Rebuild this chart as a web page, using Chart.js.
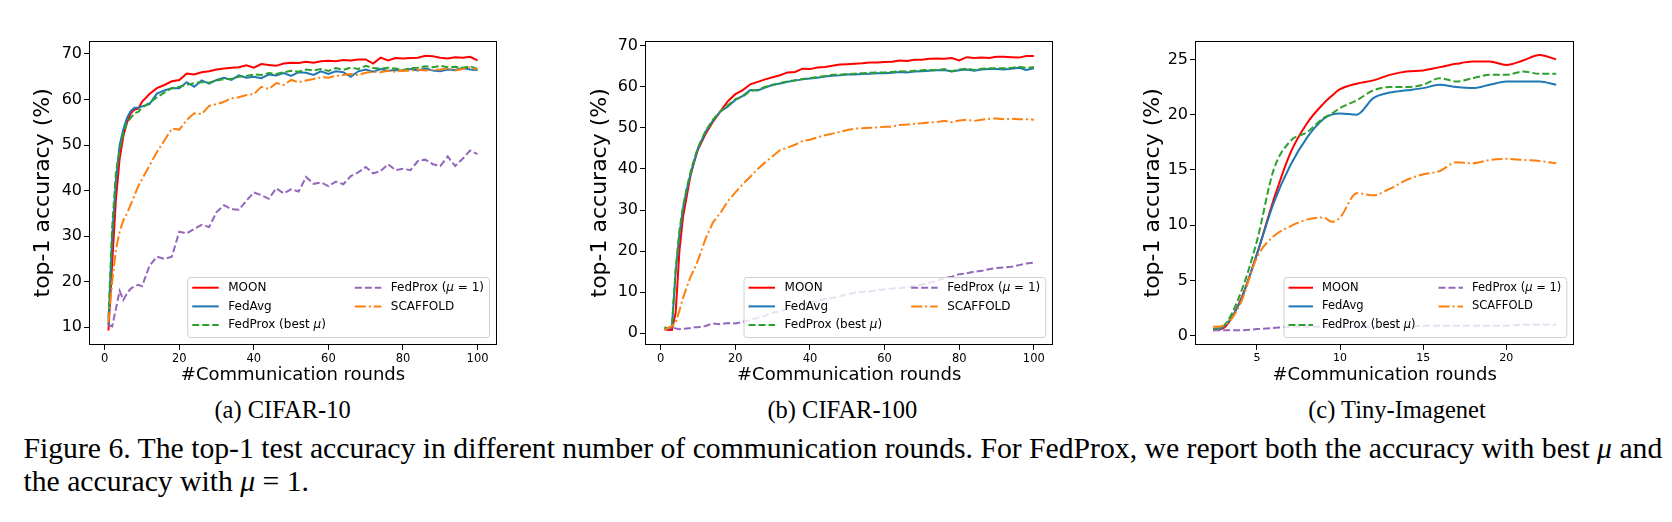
<!DOCTYPE html>
<html>
<head>
<meta charset="utf-8">
<script src="https://cdn.jsdelivr.net/npm/chart.js@4.4.1/dist/chart.umd.min.js"></script>
<style>
  body { margin: 0; background: #fff; width: 1672px; height: 522px; position: relative; overflow: hidden; }
  canvas { position: absolute; }
  .sub { position: absolute; transform: translate(-50%, -50%); font-family: "Liberation Serif", serif; font-size: 24.5px; line-height: 1; white-space: nowrap; color: #000; }
  .cap { position: absolute; left: 23.5px; font-family: "Liberation Serif", serif; font-size: 26px; line-height: 1; white-space: nowrap; color: #000; }
</style>
</head>
<body>
<canvas id="chartA" width="520" height="360" style="left:0px;top:30px"></canvas>
<canvas id="chartB" width="520" height="360" style="left:560px;top:30px"></canvas>
<canvas id="chartC" width="562" height="390" style="left:1110px;top:0px"></canvas>

<div class="sub" style="left:282.6px;top:409.5px">(a) CIFAR-10</div>
<div class="sub" style="left:842.4px;top:409.5px">(b) CIFAR-100</div>
<div class="sub" style="left:1397px;top:409.5px">(c) Tiny-Imagenet</div>
<div class="cap" id="cap1">Figure 6. The top-1 test accuracy in different number of communication rounds. For FedProx, we report both the accuracy with best <i>μ</i> and</div>
<div class="cap" id="cap2">the accuracy with <i>μ</i> = 1.</div>

<script>
// series names, in the order they are plotted
const seriesNames = ['MOON', 'FedAvg', 'FedProx (best μ)', 'FedProx (μ = 1)', 'SCAFFOLD'];
const lineColors = ['#ff0000', '#1f77b4', '#2ca02c', '#9467bd', '#ff7f0e'];
const lineDashes = [[], [], [7, 3], [7, 3], [11, 3, 2, 3]];

// (a) CIFAR-10 and (b) CIFAR-100 share the round numbers
const roundsAB = [1, 2, 3, 4, 5, 6, 7, 8, 9, 10,
  12, 14, 16, 18, 20, 22, 24, 26, 28, 30,
  32, 34, 36, 38, 40, 42, 44, 46, 48, 50,
  52, 54, 56, 58, 60, 62, 64, 66, 68, 70,
  72, 74, 76, 78, 80, 82, 84, 86, 88, 90,
  92, 94, 96, 98, 100];

const moonA = [9.3, 24, 38, 47, 52, 55, 57, 57.8, 58, 59.5,
  61.2, 62.5, 63.2, 64, 64.3, 65.7, 65.5, 66, 66.2, 66.6,
  66.8, 67, 67.1, 67.5, 67, 67.8, 67.6, 67.4, 67.9, 68.1,
  68, 68.3, 68.1, 68.4, 68.5, 68.4, 68.7, 68.6, 68.8, 68.8,
  67.9, 69.2, 68.6, 69.1, 69, 69.1, 69.2, 69.6, 69.5, 69.2,
  69, 69.3, 69.2, 69.4, 68.6];
const fedavgA = [10.5, 30, 42, 50, 53.5, 56, 57.5, 58.2, 58.2, 58.5,
  59, 61.3, 62, 62.5, 62.5, 63.8, 62.8, 64.2, 63.5, 64.3,
  64.8, 64.3, 65.3, 64.8, 65, 64.7, 65.5, 65.3, 65.8, 65.2,
  66, 65.9, 65.4, 66.2, 65.6, 66.2, 66, 65, 66.2, 66.6,
  66.1, 66.7, 66.3, 66.5, 66.3, 66.7, 66.4, 66.8, 66.4, 66.2,
  66.6, 66.5, 66.9, 66.6, 66.5];
const fedproxBestA = [12, 32, 44, 49, 52.5, 55, 56, 57, 57.3, 58.2,
  59.3, 60.5, 61.5, 62.5, 62.8, 63.2, 63.6, 63.8, 63.7, 64.2,
  64.5, 64.5, 65, 65.2, 65.5, 65.4, 65.8, 65.6, 66, 66.3,
  66.1, 66.6, 66.4, 66.7, 66.3, 66.9, 66.5, 67, 66.7, 67.4,
  66.9, 66.8, 67, 66.8, 66.5, 66.9, 67, 67.3, 67.1, 67.4,
  67.1, 67.2, 67, 67.3, 66.7];
const fedproxOneA = [10.5, 10.2, 14, 18, 16, 17.5, 18.5, 19, 19.3, 19,
  23.5, 25.5, 25, 25.5, 31, 30.6, 31.6, 32.5, 32, 35.3,
  36.8, 35.9, 35.8, 37.8, 39.6, 39, 38.2, 40.5, 39.4, 40.3,
  39.8, 43, 41.5, 41.8, 41, 42, 41.4, 43.2, 44, 45.2,
  43.8, 44.3, 45.8, 44.5, 44.8, 44.5, 46.5, 46.8, 45.8, 45.4,
  47.5, 45.4, 47, 48.8, 48];
const scaffoldA = [11, 20, 27, 31, 33.5, 35, 37, 39, 41, 42.5,
  45.5, 48.5, 51, 53.6, 53.4, 55.5, 57, 56.8, 58.6, 59,
  59.5, 60.3, 60.5, 61, 61.2, 62.8, 62.3, 63.6, 63.2, 64.3,
  63.8, 64.2, 64.5, 64.9, 64.8, 65.2, 65.4, 65.6, 65.4, 65.9,
  66.1, 66, 66.3, 66.1, 66.4, 66.3, 66.6, 66.4, 66.5, 66.6,
  66.8, 66.4, 66.7, 67.1, 66.6];

const moonB = [1, 0.8, 0.8, 5, 20, 28.5, 33.5, 38.5, 41.8, 44.8,
  48.5, 51.5, 54, 56.5, 58.2, 59.2, 60.6, 61.2, 61.8, 62.3,
  62.8, 63.5, 63.6, 64.4, 64.3, 64.7, 64.8, 65.1, 65.4, 65.5,
  65.6, 65.7, 65.9, 65.9, 66, 66.1, 66.4, 66.3, 66.6, 66.6,
  66.8, 66.9, 66.8, 67, 66.4, 67.2, 67, 67.1, 67, 67.3,
  67.3, 67.2, 67.1, 67.5, 67.5];
const fedavgB = [1.2, 1, 1.5, 15, 24, 30.5, 35, 38.8, 42, 45,
  49, 51.8, 54, 55.2, 56.8, 57.8, 59.2, 59.1, 59.8, 60.5,
  60.8, 61.2, 61.5, 61.8, 62, 62.2, 62.5, 62.7, 62.8, 63,
  63, 63.1, 63.2, 63.3, 63.3, 63.4, 63.6, 63.5, 63.7, 63.8,
  63.9, 64, 64.1, 63.7, 64, 64.2, 63.9, 64.2, 64.3, 64.3,
  64.2, 64.4, 64.6, 64.1, 64.5];
const fedproxBestB = [1.5, 1.2, 1.8, 15.5, 25, 31, 35.5, 39.3, 42.5, 45.3,
  49.2, 52, 54, 55.5, 57, 57.6, 59, 59.3, 60, 60.4,
  60.9, 61.3, 61.6, 61.9, 62.1, 62.4, 62.6, 62.9, 62.9, 63.1,
  63.2, 63.3, 63.4, 63.5, 63.5, 63.6, 63.8, 63.7, 63.9, 64,
  64.1, 64.1, 64.3, 63.8, 64.2, 64.4, 64.1, 64.4, 64.5, 64.5,
  64.5, 64.6, 64.9, 64.6, 64.8];
const fedproxOneB = [1, 1.2, 1.5, 1.2, 1, 1.1, 1.2, 1.3, 1.5, 1.5,
  1.8, 2.4, 2.2, 2.5, 2.4, 2.8, 3.2, 3.8, 4.3, 5,
  5.4, 6, 6.5, 7, 7.6, 7.8, 8.4, 8.6, 9, 9.5,
  9.9, 10.1, 10.2, 10.5, 10.7, 10.9, 11, 11.2, 11.5, 11.9,
  12.3, 12.8, 13.4, 13.8, 14.4, 14.6, 15, 15.2, 15.6, 15.9,
  16, 16.2, 16.6, 17, 17.2];
const scaffoldB = [1, 1.3, 1.8, 2.5, 5.5, 8.7, 11.3, 13.8, 15.6, 17.8,
  23, 27, 29.3, 32.2, 34.3, 36.3, 38.1, 40, 41.6, 43.1,
  44.6, 45.2, 45.9, 46.8, 47.1, 47.7, 48.2, 48.6, 49, 49.5,
  49.8, 49.9, 50, 50.1, 50.3, 50.3, 50.7, 50.8, 51, 51.1,
  51.3, 51.4, 51.7, 51.4, 51.8, 52, 51.7, 52, 52.2, 52.3,
  52.1, 52.2, 52.1, 52.1, 52];

// (c) Tiny-Imagenet
const roundsC = [2.36, 3, 4, 5, 6, 7, 8, 9, 9.5, 10, 11, 12, 13, 14, 15, 16, 17, 18, 19, 20, 21, 22, 23];
const moonC = [0.5, 0.7, 3.2, 7.4, 12.3, 16.5, 19.2, 21, 21.7, 22.3, 22.8, 23.1, 23.6, 23.9, 24, 24.3, 24.6, 24.8, 24.8, 24.5, 24.9, 25.4, 25];
const fedavgC = [0.5, 0.8, 3.1, 7.4, 12, 15.4, 17.9, 19.6, 20, 20.1, 20, 21.5, 22, 22.2, 22.4, 22.7, 22.5, 22.4, 22.7, 23, 23, 23, 22.7];
const fedproxBestC = [0.6, 0.9, 3.8, 8.6, 15, 17.6, 18.4, 19.7, 20.1, 20.6, 21.3, 22.2, 22.5, 22.5, 22.7, 23.3, 23, 23.3, 23.6, 23.6, 23.9, 23.7, 23.7];
const fedproxOneC = [0.5, 0.5, 0.5, 0.6, 0.7, 0.8, 0.8, 0.8, 0.8, 0.8, 0.8, 0.8, 0.8, 0.8, 0.9, 0.9, 0.9, 0.9, 0.9, 0.9, 1, 1, 1];
const scaffoldC = [0.8, 0.9, 2.9, 7.1, 9, 9.9, 10.5, 10.7, 10.3, 10.7, 12.9, 12.7, 13.3, 14.1, 14.6, 14.9, 15.7, 15.6, 15.9, 16, 15.9, 15.8, 15.6];

// tick labels
const xTicksAB = [0, 20, 40, 60, 80, 100];
const yTicksA = [10, 20, 30, 40, 50, 60, 70];
const yTicksB = [0, 10, 20, 30, 40, 50, 60, 70];
const xTicksC = [5, 10, 15, 20];
const yTicksC = [0, 5, 10, 15, 20, 25];

const FONT = '"DejaVu Sans", sans-serif';

// box around the plot area (matplotlib spines)
const frame = {
  id: 'frame',
  afterDatasetsDraw(chart) {
    const a = chart.chartArea, ctx = chart.ctx;
    ctx.save();
    ctx.strokeStyle = '#000';
    ctx.lineWidth = 1;
    ctx.strokeRect(Math.round(a.left) - 0.5, Math.round(a.top) - 0.5, Math.round(a.right - a.left) + 1, Math.round(a.bottom - a.top) + 1);
    ctx.restore();
  }
};

// draws text where every μ is italic
function richText(ctx, text, x, y, size) {
  text.split(/(μ)/).forEach(part => {
    if (!part) return;
    ctx.font = (part === 'μ' ? 'italic ' : '') + size + 'px ' + FONT;
    ctx.fillText(part, x, y);
    x += ctx.measureText(part).width;
  });
}
function richWidth(ctx, text, size) {
  let w = 0;
  text.split(/(μ)/).forEach(part => {
    ctx.font = (part === 'μ' ? 'italic ' : '') + size + 'px ' + FONT;
    w += ctx.measureText(part).width;
  });
  return w;
}

// two-column legend in the lower right corner, like matplotlib ncol=2
const boxLegend = {
  id: 'boxLegend',
  afterDraw(chart, args, o) {
    const ctx = chart.ctx, a = chart.chartArea;
    const ds = chart.data.datasets;
    const cols = [[0, 1, 2], [3, 4]];
    const widths = cols.map(c => Math.max(...c.map(i => richWidth(ctx, ds[i].label, o.size))));
    const pad = 5, rowH = 18.7;
    const boxW = pad + o.line + o.gap + widths[0] + o.colGap + o.line + o.gap + widths[1] + pad;
    const boxH = 60;
    const right = a.right - 7, bottom = a.bottom - 7;
    const left = right - boxW, top = bottom - boxH;
    ctx.save();
    ctx.beginPath();
    ctx.roundRect(left + 0.5, top + 0.5, boxW, boxH, 3);
    ctx.fillStyle = 'rgba(255,255,255,0.8)';
    ctx.fill();
    ctx.strokeStyle = '#d0d0d0';
    ctx.lineWidth = 1;
    ctx.stroke();
    let cx = left + pad;
    cols.forEach((c, k) => {
      c.forEach((i, r) => {
        const y = top + 10.7 + r * rowH;
        ctx.beginPath();
        ctx.setLineDash(ds[i].borderDash);
        ctx.strokeStyle = ds[i].borderColor;
        ctx.lineWidth = 2;
        ctx.moveTo(cx, y);
        ctx.lineTo(cx + o.line, y);
        ctx.stroke();
        ctx.setLineDash([]);
        ctx.fillStyle = '#000';
        ctx.textBaseline = 'middle';
        ctx.textAlign = 'left';
        richText(ctx, ds[i].label, cx + o.line + o.gap, y, o.size);
      });
      cx += o.line + o.gap + widths[k] + o.colGap;
    });
    ctx.restore();
  }
};

function makeChart(id, xs, series, o) {
  return new Chart(document.getElementById(id), {
    type: 'line',
    data: {
      datasets: series.map((ys, i) => ({
        label: seriesNames[i],
        data: xs.map((x, j) => ({ x: x, y: ys[j] })),
        borderColor: lineColors[i],
        backgroundColor: lineColors[i],
        borderDash: lineDashes[i],
        borderWidth: 2,
        pointRadius: 0,
        tension: 0,
        cubicInterpolationMode: o.smooth ? 'monotone' : 'default',
        order: series.length - i
      }))
    },
    options: {
      responsive: false,
      animation: false,
      events: [],
      layout: { padding: o.padding },
      plugins: {
        legend: { display: false },
        tooltip: { enabled: false },
        boxLegend: o.legend
      },
      scales: {
        x: {
          type: 'linear',
          min: o.xMin, max: o.xMax,
          afterFit: s => { s.height = o.xHeight; },
          afterBuildTicks: s => { s.ticks = o.xTicks.map(v => ({ value: v })); },
          ticks: { font: { family: FONT, size: o.xTickSize }, color: '#000', padding: 2, autoSkip: false, maxRotation: 0 },
          grid: { drawOnChartArea: false, drawTicks: true, tickLength: 6, tickColor: '#000', tickWidth: 1 },
          border: { display: false },
          title: { display: true, text: '#Communication rounds', font: { family: FONT, size: 18 }, color: '#000', padding: { top: 0, bottom: o.xTitlePad } }
        },
        y: {
          type: 'linear',
          min: o.yMin, max: o.yMax,
          afterFit: s => { s.width = o.yWidth; },
          afterBuildTicks: s => { s.ticks = o.yTicks.map(v => ({ value: v })); },
          ticks: { font: { family: FONT, size: 16 }, color: '#000', padding: 2, autoSkip: false },
          grid: { drawOnChartArea: false, drawTicks: true, tickLength: 6, tickColor: '#000', tickWidth: 1 },
          border: { display: false },
          title: { display: true, text: 'top-1 accuracy (%)', font: { family: FONT, size: 22 }, color: '#000', padding: { top: o.yTitlePad, bottom: 0 } }
        }
      }
    },
    plugins: [frame, boxLegend]
  });
}

const chartA = makeChart('chartA', roundsAB, [moonA, fedavgA, fedproxBestA, fedproxOneA, scaffoldA], {
  padding: { left: 0, top: 11.7, right: 24, bottom: 0 },
  xMin: -3.95, xMax: 104.95, yMin: 6.33, yMax: 72.7,
  xTicks: xTicksAB, yTicks: yTicksA, xTickSize: 11.5,
  yWidth: 90, xHeight: 46, yTitlePad: 30, xTitlePad: 4.2,
  legend: { size: 12, line: 26.5, gap: 9.5, colGap: 29 }
});

const chartB = makeChart('chartB', roundsAB, [moonB, fedavgB, fedproxBestB, fedproxOneB, scaffoldB], {
  padding: { left: 0, top: 11.7, right: 27.7, bottom: 0 },
  xMin: -3.95, xMax: 104.95, yMin: -2.6, yMax: 70.97,
  xTicks: xTicksAB, yTicks: yTicksB, xTickSize: 11.5,
  yWidth: 86, xHeight: 46, yTitlePad: 27.5, xTitlePad: 4.2,
  legend: { size: 12, line: 26.5, gap: 9.5, colGap: 29 }
});

const chartC = makeChart('chartC', roundsC, [moonC, fedavgC, fedproxBestC, fedproxOneC, scaffoldC], {
  smooth: true,
  padding: { left: 0, top: 41.7, right: 98.7, bottom: 0 },
  xMin: 1.33, xMax: 24.03, yMin: -0.75, yMax: 26.6,
  xTicks: xTicksC, yTicks: yTicksC, xTickSize: 11,
  yWidth: 86, xHeight: 46, yTitlePad: 30.1, xTitlePad: 3.5,
  legend: { size: 11.5, line: 24.5, gap: 9, colGap: 23 }
});

// fit the caption to the width it has in the figure
const cap1 = document.getElementById('cap1');
const cap2 = document.getElementById('cap2');
const w = cap1.getBoundingClientRect().width;
const size = 26 * 1640 / w;
[cap1, cap2].forEach(el => { el.style.fontSize = size + 'px'; });
cap1.style.top = (449 - size / 2) + 'px';
cap2.style.top = (482 - size / 2) + 'px';
</script>
</body>
</html>
